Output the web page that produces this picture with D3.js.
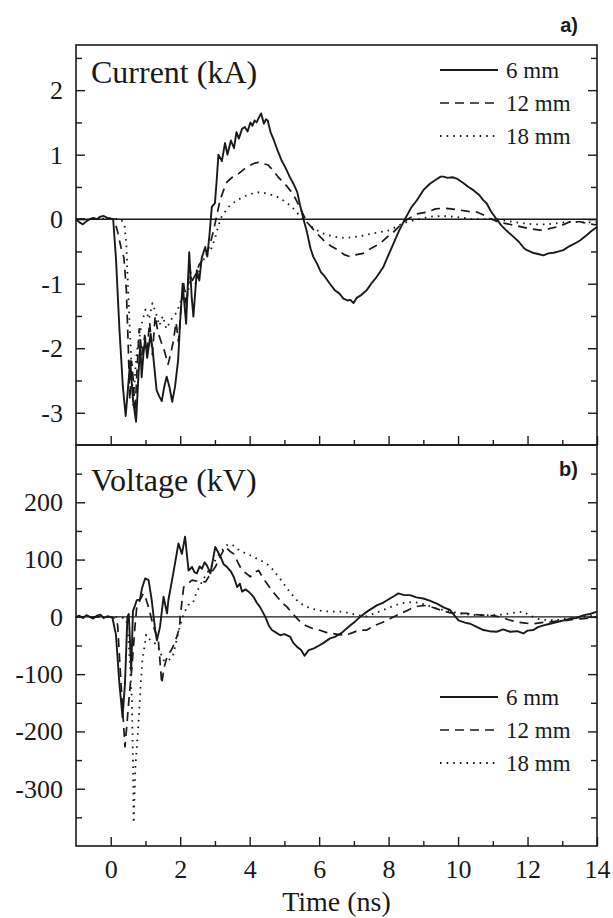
<!DOCTYPE html>
<html>
<head>
<meta charset="utf-8">
<script src="https://cdn.jsdelivr.net/npm/d3@7"></script>
<style>
  body { margin: 0; background: #fff; }
  svg text { font-family: "Liberation Serif", "DejaVu Serif", serif; fill: #1a1a1a; }
  svg text.tag { font-family: "Liberation Sans", "DejaVu Sans", sans-serif; font-weight: bold; }
</style>
</head>
<body>
<div id="viz"></div>
<script>
// series: [time (ns), value]
const current6 = [[-1.0,0.0],[-0.9,-0.05],[-0.8,-0.08],[-0.7,-0.03],[-0.6,0.0],[-0.5,0.02],[-0.4,0.0],[-0.3,0.04],[-0.2,0.05],[-0.1,0.02],[0.0,0.01],[0.07,0.0],[0.15,-0.6],[0.25,-1.7],[0.35,-2.6],[0.43,-3.05],[0.5,-2.6],[0.56,-2.2],[0.64,-2.8],[0.73,-3.14],[0.79,-2.5],[0.85,-1.92],[0.89,-2.45],[0.94,-2.1],[0.99,-1.85],[1.05,-2.15],[1.1,-1.95],[1.15,-1.78],[1.22,-2.1],[1.32,-2.65],[1.4,-2.75],[1.47,-2.82],[1.54,-2.6],[1.61,-2.44],[1.69,-2.6],[1.77,-2.83],[1.85,-2.6],[1.94,-2.19],[2.0,-1.57],[2.07,-1.0],[2.17,-1.62],[2.26,-0.51],[2.33,-1.2],[2.38,-1.51],[2.48,-0.79],[2.55,-0.95],[2.62,-0.6],[2.72,-0.43],[2.78,-0.58],[2.85,-0.2],[2.91,0.19],[3.0,0.25],[3.05,0.6],[3.1,1.0],[3.2,0.9],[3.29,1.18],[3.36,1.0],[3.46,1.22],[3.55,1.1],[3.62,1.35],[3.69,1.25],[3.78,1.4],[3.86,1.43],[3.94,1.36],[4.02,1.5],[4.08,1.45],[4.14,1.53],[4.2,1.5],[4.25,1.56],[4.33,1.64],[4.41,1.48],[4.47,1.55],[4.52,1.53],[4.6,1.35],[4.7,1.22],[4.8,1.07],[4.92,0.91],[5.03,0.8],[5.15,0.66],[5.26,0.55],[5.37,0.42],[5.45,0.22],[5.55,0.0],[5.65,-0.2],[5.75,-0.45],[5.83,-0.58],[5.95,-0.7],[6.05,-0.82],[6.15,-0.88],[6.31,-1.0],[6.45,-1.1],[6.58,-1.15],[6.7,-1.23],[6.82,-1.26],[6.9,-1.25],[6.99,-1.3],[7.08,-1.22],[7.2,-1.18],[7.37,-1.1],[7.5,-1.0],[7.65,-0.9],[7.85,-0.74],[8.0,-0.55],[8.14,-0.38],[8.3,-0.18],[8.47,0.0],[8.65,0.18],[8.81,0.29],[9.0,0.45],[9.19,0.55],[9.38,0.62],[9.5,0.66],[9.58,0.66],[9.7,0.64],[9.84,0.65],[9.96,0.63],[10.15,0.56],[10.3,0.5],[10.44,0.45],[10.6,0.38],[10.72,0.3],[10.83,0.24],[10.95,0.12],[11.11,0.0],[11.25,-0.1],[11.4,-0.18],[11.59,-0.27],[11.75,-0.35],[11.9,-0.45],[11.98,-0.48],[12.15,-0.52],[12.3,-0.54],[12.46,-0.56],[12.6,-0.53],[12.75,-0.52],[12.9,-0.5],[13.03,-0.48],[13.2,-0.42],[13.35,-0.38],[13.51,-0.33],[13.7,-0.25],[13.85,-0.18],[14.0,-0.12]];

const current12 = [[-1.0,0.0],[-0.6,0.01],[-0.2,0.0],[0.1,0.0],[0.2,-0.2],[0.3,-0.45],[0.38,-0.6],[0.45,-1.1],[0.5,-1.9],[0.55,-2.8],[0.6,-2.2],[0.65,-2.5],[0.7,-3.0],[0.76,-2.3],[0.82,-1.7],[0.9,-2.1],[0.98,-1.8],[1.05,-2.0],[1.12,-1.6],[1.2,-2.1],[1.28,-1.5],[1.36,-1.75],[1.45,-1.9],[1.55,-2.05],[1.65,-2.25],[1.72,-2.1],[1.8,-1.9],[1.88,-1.6],[1.95,-1.9],[2.02,-1.4],[2.1,-1.0],[2.18,-1.35],[2.27,-0.75],[2.35,-0.95],[2.45,-0.85],[2.55,-0.7],[2.65,-0.62],[2.75,-0.55],[2.85,-0.4],[2.95,-0.2],[3.05,0.05],[3.15,0.3],[3.25,0.45],[3.35,0.58],[3.5,0.65],[3.69,0.71],[3.85,0.78],[4.03,0.84],[4.15,0.87],[4.25,0.88],[4.4,0.86],[4.53,0.84],[4.67,0.76],[4.81,0.66],[4.95,0.58],[5.09,0.5],[5.26,0.38],[5.45,0.18],[5.64,-0.04],[5.9,-0.2],[6.17,-0.35],[6.35,-0.42],[6.55,-0.48],[6.72,-0.55],[6.89,-0.58],[7.08,-0.55],[7.27,-0.53],[7.5,-0.45],[7.75,-0.38],[7.95,-0.28],[8.14,-0.2],[8.38,-0.07],[8.55,0.0],[8.8,0.08],[9.1,0.11],[9.35,0.16],[9.58,0.17],[9.8,0.16],[10.06,0.14],[10.3,0.12],[10.54,0.11],[10.75,0.06],[10.92,0.01],[11.2,-0.05],[11.59,-0.09],[12.0,-0.14],[12.36,-0.17],[12.6,-0.15],[12.84,-0.12],[13.05,-0.08],[13.22,-0.04],[13.51,-0.04],[13.75,-0.07],[14.0,-0.09]];

const current18 = [[-1.0,0.0],[-0.5,0.0],[0.0,0.01],[0.3,0.0],[0.4,-0.1],[0.45,-0.4],[0.5,-1.1],[0.55,-1.7],[0.6,-2.3],[0.65,-2.9],[0.7,-2.4],[0.75,-2.05],[0.82,-1.85],[0.9,-1.6],[1.0,-1.4],[1.1,-1.55],[1.2,-1.3],[1.3,-1.45],[1.4,-1.65],[1.5,-1.5],[1.6,-1.7],[1.7,-1.6],[1.8,-1.5],[1.9,-1.45],[2.0,-1.3],[2.1,-1.05],[2.2,-1.2],[2.3,-0.9],[2.45,-1.0],[2.6,-0.7],[2.75,-0.55],[2.9,-0.45],[3.0,-0.3],[3.1,-0.1],[3.2,0.05],[3.44,0.22],[3.65,0.3],[3.92,0.37],[4.1,0.4],[4.3,0.42],[4.55,0.39],[4.78,0.35],[5.0,0.28],[5.2,0.2],[5.4,0.08],[5.55,0.0],[5.83,-0.14],[6.1,-0.22],[6.41,-0.27],[6.7,-0.29],[6.99,-0.28],[7.3,-0.25],[7.56,-0.22],[8.04,-0.17],[8.38,-0.07],[8.71,-0.02],[9.19,0.04],[9.5,0.05],[9.87,0.04],[10.44,0.0],[11.1,0.0],[11.79,-0.06],[12.2,-0.08],[12.55,-0.08],[13.22,-0.04],[13.6,-0.05],[14.0,-0.05]];

const voltage6 = [[-1.0,0],[-0.9,2],[-0.8,-2],[-0.7,3],[-0.6,0],[-0.5,-3],[-0.4,2],[-0.3,4],[-0.2,-2],[-0.1,1],[0.0,0],[0.05,-2],[0.15,-31],[0.25,-117],[0.34,-175],[0.41,-117],[0.48,0],[0.52,5],[0.59,-94],[0.64,10],[0.7,20],[0.75,29],[0.84,30],[0.9,50],[0.99,67],[1.09,64],[1.18,29],[1.28,-23],[1.33,-41],[1.42,-17],[1.52,35],[1.62,6],[1.66,29],[1.8,76],[1.95,128],[2.05,110],[2.14,140],[2.24,81],[2.34,87],[2.41,78],[2.48,76],[2.56,88],[2.63,84],[2.7,95],[2.77,90],[2.87,76],[3.01,122],[3.16,105],[3.25,92],[3.35,87],[3.45,80],[3.54,70],[3.64,52],[3.72,58],[3.78,44],[3.88,48],[3.97,44],[4.11,35],[4.2,25],[4.3,17],[4.45,0],[4.55,-15],[4.64,-23],[4.75,-27],[4.88,-32],[5.0,-30],[5.17,-35],[5.25,-45],[5.36,-52],[5.48,-58],[5.58,-68],[5.7,-58],[5.85,-55],[6.0,-50],[6.14,-45],[6.3,-38],[6.45,-35],[6.65,-28],[6.8,-20],[7.0,-10],[7.18,0],[7.4,10],[7.66,20],[7.85,25],[8.04,32],[8.15,36],[8.28,41],[8.45,38],[8.62,38],[8.8,34],[9.0,32],[9.2,28],[9.39,23],[9.6,16],[9.77,12],[9.9,2],[10.01,-6],[10.2,-10],[10.35,-12],[10.55,-18],[10.73,-23],[10.9,-25],[11.11,-26],[11.3,-22],[11.5,-26],[11.7,-25],[11.88,-29],[12.0,-24],[12.17,-23],[12.3,-18],[12.46,-15],[12.65,-12],[12.85,-9],[13.05,-6],[13.23,-3],[13.4,-2],[13.62,3],[13.8,5],[14.0,9]];

const voltage12 = [[-1.0,0],[-0.5,0],[0.0,0],[0.15,-3],[0.2,-15],[0.3,-120],[0.41,-227],[0.46,-192],[0.53,-140],[0.61,-88],[0.71,-8],[0.75,17],[0.85,30],[0.94,41],[1.02,30],[1.09,17],[1.23,-17],[1.37,-41],[1.47,-117],[1.53,-90],[1.62,-70],[1.78,-54],[1.9,-35],[1.98,-19],[2.0,0],[2.1,52],[2.22,58],[2.34,64],[2.5,62],[2.73,61],[2.87,75],[3.01,87],[3.15,105],[3.3,122],[3.42,115],[3.54,110],[3.66,95],[3.78,81],[3.9,76],[4.02,70],[4.14,78],[4.26,81],[4.38,68],[4.5,58],[4.65,45],[4.79,35],[4.93,25],[5.08,17],[5.2,8],[5.32,0],[5.45,-8],[5.61,-15],[5.8,-20],[6.0,-23],[6.2,-27],[6.38,-29],[6.58,-31],[6.76,-32],[6.95,-28],[7.15,-23],[7.37,-23],[7.6,-15],[7.85,-9],[8.05,-3],[8.24,3],[8.5,10],[8.72,17],[8.9,19],[9.1,20],[9.3,16],[9.49,12],[9.7,8],[9.87,6],[10.05,6],[10.25,6],[10.5,4],[10.73,3],[11.0,2],[11.21,0],[11.45,-5],[11.69,-9],[11.95,-11],[12.17,-12],[12.4,-10],[12.65,-9],[12.9,-7],[13.13,-6],[13.4,-4],[13.62,-3],[13.8,-2],[14.0,0]];

const voltage18 = [[-1.0,0],[-0.5,0],[0.0,0],[0.3,0],[0.45,-5],[0.51,-40],[0.56,-90],[0.61,-146],[0.64,-250],[0.66,-360],[0.69,-300],[0.71,-262],[0.76,-220],[0.81,-175],[0.86,-120],[0.91,-77],[1.02,-31],[1.1,-38],[1.17,-42],[1.25,-45],[1.32,-48],[1.42,-60],[1.5,-75],[1.6,-78],[1.7,-74],[1.78,-71],[1.88,-45],[1.98,-19],[2.1,5],[2.23,21],[2.36,23],[2.46,41],[2.55,52],[2.65,64],[2.77,76],[2.89,87],[3.0,98],[3.13,110],[3.23,118],[3.33,125],[3.43,127],[3.52,125],[3.66,118],[3.81,113],[3.96,109],[4.11,105],[4.25,100],[4.4,96],[4.55,90],[4.69,81],[4.83,70],[4.98,58],[5.17,42],[5.36,29],[5.55,20],[5.75,15],[6.0,11],[6.33,9],[6.7,9],[7.1,3],[7.37,1],[7.6,6],[7.85,12],[8.1,18],[8.33,23],[8.52,25],[8.72,26],[8.9,24],[9.1,20],[9.35,15],[9.58,12],[9.8,9],[10.06,6],[10.3,4],[10.54,3],[11.0,3],[11.25,4],[11.5,6],[11.7,8],[11.88,9],[12.05,3],[12.27,-3],[12.45,-5],[12.65,-6],[12.9,-5],[13.13,-3],[13.4,-1],[13.62,0],[13.8,1],[14.0,3]];

const legendLabels = ['6 mm', '12 mm', '18 mm'];
const xTicks = [0, 2, 4, 6, 8, 10, 12, 14];
const xMinor = [1, 3, 5, 7, 9, 11, 13];
const currentTicks = [-3, -2, -1, 0, 1, 2];
const currentMinor = [-2.5, -1.5, -0.5, 0.5, 1.5, 2.5];
const voltageTicks = [-300, -200, -100, 0, 100, 200];
const voltageMinor = [-350, -250, -150, -50, 50, 150, 250];

const W = 613, H = 918;
const left = 76, right = 597;
const dashes = [null, '9,6', '1.6,5'];
const widths = [1.9, 1.7, 1.8];
const ink = '#1a1a1a';
const plain = d => String(d);   // hyphen minus, as in the original

const svg = d3.select('#viz').append('svg')
  .attr('width', W).attr('height', H);

const x = d3.scaleLinear().domain([-1, 14]).range([left, right]);

const panels = [
  { top: 45, bottom: 445, domain: [-3.5, 2.7], ticks: currentTicks, minor: currentMinor,
    series: [current6, current12, current18], title: 'Current (kA)', titleY: 83,
    tag: 'a)', tagY: 32, legendY: 70, xLabels: false },
  { top: 445, bottom: 846, domain: [-400, 300], ticks: voltageTicks, minor: voltageMinor,
    series: [voltage6, voltage12, voltage18], title: 'Voltage (kV)', titleY: 491,
    tag: 'b)', tagY: 476, legendY: 697, xLabels: true }
];

panels.forEach(p => {
  const y = d3.scaleLinear().domain(p.domain).range([p.bottom, p.top]);
  const g = svg.append('g');

  // zero line
  g.append('line')
    .attr('x1', x(-1)).attr('x2', x(14))
    .attr('y1', y(0)).attr('y2', y(0))
    .attr('stroke', ink).attr('stroke-width', 1.4);

  const line = d3.line().x(d => x(d[0])).y(d => y(d[1]));
  p.series.forEach((s, i) => {
    g.append('path')
      .datum(s)
      .attr('fill', 'none')
      .attr('stroke', ink)
      .attr('stroke-width', widths[i])
      .attr('stroke-linejoin', 'round')
      .attr('stroke-dasharray', dashes[i])
      .attr('d', line);
  });

  // axes, ticks point inward
  const yl = g.append('g').attr('transform', 'translate(' + left + ',0)')
    .call(d3.axisLeft(y).tickValues(p.ticks).tickSize(-9).tickPadding(13).tickFormat(plain));
  const ylm = g.append('g').attr('transform', 'translate(' + left + ',0)')
    .call(d3.axisLeft(y).tickValues(p.minor).tickSize(-6).tickFormat(''));
  const yr = g.append('g').attr('transform', 'translate(' + right + ',0)')
    .call(d3.axisRight(y).tickValues(p.ticks).tickSize(-9).tickFormat(''));
  const yrm = g.append('g').attr('transform', 'translate(' + right + ',0)')
    .call(d3.axisRight(y).tickValues(p.minor).tickSize(-6).tickFormat(''));
  const xb = g.append('g').attr('transform', 'translate(0,' + p.bottom + ')')
    .call(d3.axisBottom(x).tickValues(xTicks).tickSize(-9).tickPadding(14)
      .tickFormat(p.xLabels ? plain : ''));
  const xbm = g.append('g').attr('transform', 'translate(0,' + p.bottom + ')')
    .call(d3.axisBottom(x).tickValues(xMinor).tickSize(-5).tickFormat(''));

  [yl, ylm, yr, yrm, xb, xbm].forEach(a => {
    a.attr('font-family', null);
    a.select('.domain').remove();
    a.selectAll('line').attr('stroke', ink).attr('stroke-width', 1.4);
    a.selectAll('text').attr('font-size', 26).attr('fill', ink);
  });

  // frame
  g.append('rect')
    .attr('x', left).attr('y', p.top)
    .attr('width', right - left).attr('height', p.bottom - p.top)
    .attr('fill', 'none').attr('stroke', ink).attr('stroke-width', 1.6);

  g.append('text')
    .attr('x', left + 15).attr('y', p.titleY)
    .attr('font-size', 32)
    .text(p.title);

  g.append('text')
    .attr('class', 'tag')
    .attr('x', 578).attr('y', p.tagY)
    .attr('text-anchor', 'end')
    .attr('font-size', 20)
    .text(p.tag);

  // legend
  const lg = g.append('g');
  legendLabels.forEach((lab, i) => {
    const ly = p.legendY + i * 33;
    lg.append('line')
      .attr('x1', 440).attr('x2', 498)
      .attr('y1', ly).attr('y2', ly)
      .attr('stroke', ink).attr('stroke-width', widths[i])
      .attr('stroke-dasharray', dashes[i]);
    lg.append('text')
      .attr('x', 506).attr('y', ly + 8)
      .attr('font-size', 23)
      .text(lab);
  });
});

svg.append('text')
  .attr('x', (left + right) / 2).attr('y', 911)
  .attr('text-anchor', 'middle')
  .attr('font-size', 28)
  .text('Time (ns)');
</script>
</body>
</html>
